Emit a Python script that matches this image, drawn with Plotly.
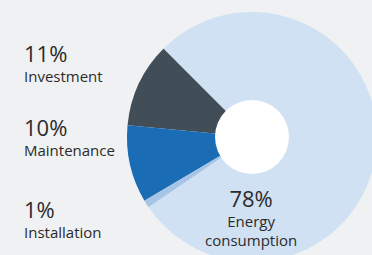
import plotly.graph_objects as go

labels = ["Investment", "Maintenance", "Installation", "Energy consumption"]
values = [11, 10, 1, 78]
colors = ["#414e57", "#1a6cb5", "#a5c4e6", "#cfe1f2"]
pct_text = ["11%", "10%", "1%", "78%"]
name_text = ["Investment", "Maintenance", "Installation", "Energy<br>consumption"]

W, H = 380, 262
cx, cy, R = 252, 137, 125
hole_r = 37

def px(x):
    return x / W

def py(y):
    return (H - y) / H

fig = go.Figure(go.Pie(
    labels=labels, values=values, sort=False, direction="counterclockwise",
    rotation=-84.6, marker=dict(colors=colors, line=dict(width=0)),
    textinfo="none", hoverinfo="label+percent", showlegend=False,
    domain=dict(x=[px(cx - R), px(cx + R)], y=[py(cy + R), py(cy - R)]),
))

fig.add_shape(type="circle", xref="paper", yref="paper",
              x0=px(cx - hole_r), x1=px(cx + hole_r),
              y0=py(cy + hole_r), y1=py(cy - hole_r),
              fillcolor="white", line=dict(width=0))

font_family = "Open Sans"
txt_color = "#2b2b2b"

def combo(i):
    return "<span style='font-size:22px'>%s</span><br>%s" % (pct_text[i], name_text[i])

left_y = [62, 135.5, 218]
for i, yc in enumerate(left_y):
    fig.add_annotation(x=px(22), y=py(yc), xref="paper", yref="paper", text=combo(i),
                       showarrow=False, xanchor="left", yanchor="middle", align="left",
                       font=dict(family=font_family, size=15, color=txt_color))

fig.add_annotation(x=px(251), y=py(216), xref="paper", yref="paper", text=combo(3),
                   showarrow=False, xanchor="center", yanchor="middle", align="center",
                   font=dict(family=font_family, size=15, color=txt_color))

fig.update_layout(width=W, height=H, margin=dict(l=0, r=0, t=0, b=0),
                  paper_bgcolor="#f0f1f3", plot_bgcolor="#f0f1f3")

fig.write_html("out.html", config={"displayModeBar": False},
               post_script="document.body.style.margin='0';document.body.style.overflow='hidden';")
